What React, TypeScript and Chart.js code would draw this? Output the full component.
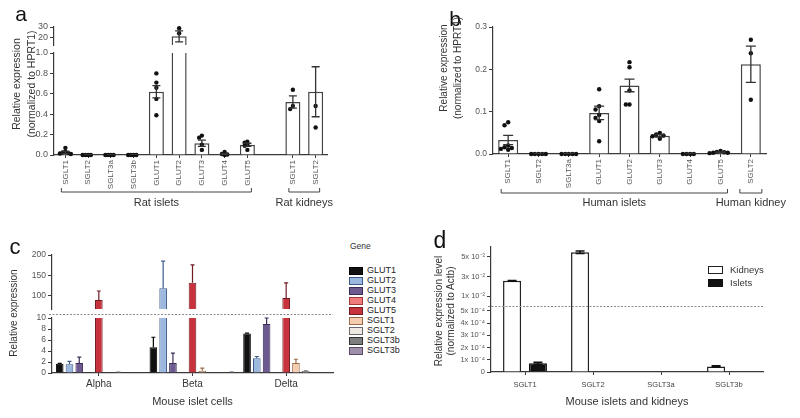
import React, { useEffect, useRef } from 'react';
import { Chart, registerables } from 'chart.js';

Chart.register(...registerables);

const FONT = '"Liberation Sans", Arial, Helvetica, sans-serif';
Chart.defaults.font.family = FONT;
const AXIS = '#3a3a3a';
const TICK = '#555555';

// ---------------- Panel a : rat ----------------
const aLabels = ['SGLT1', 'SGLT2', 'SGLT3a', 'SGLT3b', 'GLUT1', 'GLUT2', 'GLUT3', 'GLUT4', 'GLUT5', '', 'SGLT1', 'SGLT2'];
const aMean: (number | null)[] = [0.025, 0.002, 0.002, 0.002, 0.62, 21.5, 0.115, 0.01, 0.1, null, 0.52, 0.62];
const aSem: (number | null)[] = [0.01, 0.001, 0.001, 0.001, 0.06, 5, 0.03, 0.006, 0.015, null, 0.06, 0.245];
const aDots: number[][] = [
  [0.07, 0.035, 0.025, 0.02, 0.015, 0.01],
  [0, 0, 0, 0],
  [0, 0, 0, 0],
  [0, 0, 0, 0],
  [0.8, 0.71, 0.66, 0.55, 0.39],
  [28.8, 24.3, 11.5],
  [0.19, 0.17, 0.1, 0.05],
  [0.03, 0.01, 0.005, 0],
  [0.13, 0.12, 0.1, 0.09, 0.05],
  [],
  [0.64, 0.48, 0.45],
  [0.48, 0.27, 1.11],
];
const aTopRange = [13.6, 30];
const aTopTicks = [20, 30];
const aBottomRange = [0, 1.0];
const aBottomTicks = [0, 0.2, 0.4, 0.6, 0.8, 1.0];
const aGroups = [
  { label: 'Rat islets', from: 0, to: 8 },
  { label: 'Rat kidneys', from: 10, to: 11 },
];

// ---------------- Panel b : human ----------------
const bLabels = ['SGLT1', 'SGLT2', 'SGLT3a', 'GLUT1', 'GLUT2', 'GLUT3', 'GLUT4', 'GLUT5', 'SGLT2'];
const bMean = [0.033, 0.001, 0.001, 0.097, 0.162, 0.043, 0.001, 0.004, 0.212];
const bSem = [0.011, 0.0005, 0.0005, 0.016, 0.015, 0.003, 0.0005, 0.001, 0.043];
const bDots: number[][] = [
  [0.075, 0.068, 0.02, 0.016, 0.014, 0.012, 0.01],
  [0, 0, 0, 0, 0],
  [0, 0, 0, 0, 0],
  [0.153, 0.113, 0.105, 0.092, 0.085, 0.078, 0.03],
  [0.217, 0.205, 0.15, 0.117, 0.117],
  [0.05, 0.046, 0.044, 0.042, 0.036],
  [0, 0, 0, 0],
  [0.007, 0.005, 0.004, 0.003, 0.003, 0.002],
  [0.27, 0.238, 0.128],
];
const bRange = [0, 0.3];
const bTicks = [0, 0.1, 0.2, 0.3];
const bGroups = [
  { label: 'Human islets', from: 0, to: 7 },
  { label: 'Human kidney', from: 8, to: 8 },
];

// ---------------- Panel c : mouse islet cells ----------------
const cCells = ['Alpha', 'Beta', 'Delta'];
const cGenes = ['GLUT1', 'GLUT2', 'GLUT3', 'GLUT4', 'GLUT5', 'SGLT1', 'SGLT2', 'SGLT3b', 'SGLT3b'];
const cValues: number[][] = [
  [1.7, 4.7, 7.2],
  [1.6, 119, 2.7],
  [1.8, 1.8, 8.9],
  [0, 0, 0],
  [90, 132, 95],
  [0, 0.4, 1.8],
  [0.1, 0, 0.35],
  [0, 0, 0.05],
  [0, 0.1, 0],
];
const cErrors: number[][] = [
  [0.05, 1.8, 0.05],
  [0.5, 66, 0.3],
  [1.1, 1.8, 1.1],
  [0, 0, 0],
  [22, 44, 37],
  [0, 0.5, 0.7],
  [0.05, 0, 0.05],
  [0, 0, 0.02],
  [0, 0.05, 0],
];
const cFill = ['#111111', '#9db8df', '#6d5a8f', '#ef7b7b', '#c8323d', '#f4cdb0', '#eee8e2', '#7e7e7e', '#a08fab'];
const cEdge = ['#000000', '#3c5b8a', '#3a2d57', '#a33a3a', '#6e1c22', '#9c6b4c', '#6a6a6a', '#333333', '#5a4a66'];
const cTopRange = [68, 200];
const cTopTicks = [100, 150, 200];
const cBottomRange = [0, 10];
const cBottomTicks = [0, 2, 4, 6, 8, 10];

// ---------------- Panel d : mouse islets and kidneys ----------------
const dLabels = ['SGLT1', 'SGLT2', 'SGLT3a', 'SGLT3b'];
const dKidneys = [0.0256, 0.0547, 0, 0.000045];
const dKidneysErr = [0.0004, 0.0012, 0, 0.000006];
const dIslets = [0.000072, 0, 0, 0];
const dIsletsErr = [0.000008, 0, 0, 0];
const dTopRange = [0, 0.06];
const dTopTicks = [0.01, 0.03, 0.05];
const dTopTickLabels = ['1x 10⁻²', '3x 10⁻²', '5x 10⁻²'];
const dBottomRange = [0, 0.00054];
const dBottomTicks = [0, 0.0001, 0.0002, 0.0003, 0.0004, 0.0005];
const dBottomTickLabels = ['0', '1x 10⁻⁴', '2x 10⁻⁴', '3x 10⁻⁴', '4x 10⁻⁴', '5x 10⁻⁴'];

// ---------------- helpers ----------------
function swarm(dots: number[][], keep: (v: number) => boolean, span: number) {
  const out: { x: number; y: number }[] = [];
  dots.forEach((arr, i) => {
    const placed: { o: number; y: number }[] = [];
    arr.filter(keep).forEach((y) => {
      const steps = [0, -1, 1, -2, 2, -3, 3];
      let o = 0;
      for (const s of steps) {
        if (!placed.some((p) => p.o === s && Math.abs(p.y - y) < span)) {
          o = s;
          break;
        }
      }
      placed.push({ o, y });
      out.push({ x: i + o * 0.12, y });
    });
  });
  return out;
}

function yAxis(o: {
  min: number; max: number; ticks: number[]; width: number; fmt: (v: number, i: number) => string;
  size: number; stack?: string; stackWeight?: number; weight?: number; tickLen?: number;
}) {
  return {
    type: 'linear',
    position: 'left',
    bounds: 'data',
    min: o.min,
    max: o.max,
    stacked: false,
    stack: o.stack,
    stackWeight: o.stackWeight,
    weight: o.weight ?? 0,
    afterBuildTicks: (s: any) => {
      s.ticks = o.ticks.map((v) => ({ value: v }));
    },
    afterFit: (s: any) => {
      s.width = o.width;
    },
    grid: { display: true, drawOnChartArea: false, drawTicks: true, tickLength: o.tickLen ?? 4, color: AXIS, lineWidth: 1 },
    border: { display: true, color: AXIS, width: 1.2 },
    ticks: {
      autoSkip: false,
      font: { family: FONT, size: o.size },
      color: TICK,
      padding: 2,
      callback: (v: any, i: number) => o.fmt(Number(v), i),
    },
  };
}

function spacerAxis(stackWeight: number, weight: number, width: number) {
  return {
    type: 'linear',
    position: 'left',
    min: 0,
    max: 1,
    stack: 'p',
    stackWeight,
    weight,
    afterFit: (s: any) => {
      s.width = width;
    },
    grid: { display: false },
    border: { display: false },
    ticks: { display: false },
  };
}

function catX(o: {
  labels: string[]; height: number; size: number; rotate: number; color: string; tickLen: number; pad: number; title?: string;
}) {
  return {
    type: 'category',
    position: 'bottom',
    labels: o.labels,
    offset: true,
    weight: 2,
    afterFit: (s: any) => {
      s.height = o.height;
    },
    grid: {
      display: true,
      offset: false,
      drawOnChartArea: false,
      drawTicks: true,
      tickLength: o.tickLen,
      color: (c: any) => (o.labels[c.index] === '' ? 'rgba(0,0,0,0)' : AXIS),
    },
    border: { display: true, color: AXIS, width: 1.2 },
    ticks: {
      autoSkip: false,
      maxRotation: o.rotate,
      minRotation: o.rotate,
      padding: o.pad,
      font: { family: FONT, size: o.size },
      color: o.color,
    },
    title: o.title
      ? { display: true, text: o.title, font: { family: FONT, size: 11 }, color: '#333', padding: { top: 0, bottom: 9 } }
      : { display: false },
  };
}

// invisible linear x scale sharing the category axis span (used for jittered dots)
function dotX(n: number) {
  return {
    type: 'linear',
    position: 'bottom',
    bounds: 'data',
    offset: false,
    min: -0.5,
    max: n - 0.5,
    weight: 1,
    afterFit: (s: any) => {
      s.height = 0;
    },
    grid: { display: false, offset: false },
    border: { display: false },
    ticks: { display: false },
  };
}

const errorBarPlugin = {
  id: 'errorBarsCustom',
  afterDatasetsDraw(chart: any) {
    const ctx = chart.ctx;
    chart.data.datasets.forEach((ds: any, di: number) => {
      if (!ds.errors) return;
      const meta = chart.getDatasetMeta(di);
      const ys = chart.scales[ds.yAxisID];
      const st = ds.errorStyle || {};
      ctx.save();
      ctx.beginPath();
      ctx.rect(0, ys.top - 3, chart.width, ys.bottom - ys.top + 3);
      ctx.clip();
      ctx.strokeStyle = st.color || '#333';
      ctx.lineWidth = st.width || 1.2;
      meta.data.forEach((el: any, i: number) => {
        const v = ds.data[i];
        const e = ds.errors[i];
        if (v == null || e == null || e <= 0) return;
        const x = el.x;
        const yHi = ys.getPixelForValue(v + e);
        const yLo = st.oneSided ? ys.getPixelForValue(v) : ys.getPixelForValue(v - e);
        const cap = (st.cap || 8) / 2;
        ctx.beginPath();
        ctx.moveTo(x, yLo);
        ctx.lineTo(x, yHi);
        ctx.moveTo(x - cap, yHi);
        ctx.lineTo(x + cap, yHi);
        if (!st.oneSided) {
          ctx.moveTo(x - cap, yLo);
          ctx.lineTo(x + cap, yLo);
        }
        ctx.stroke();
      });
      ctx.restore();
    });
  },
};

function bracketPlugin(groups: { label: string; from: number; to: number }[], lineY: number, labelY: number, pad: number, singlePad: number) {
  return {
    id: 'brackets',
    afterDraw(chart: any) {
      const ctx = chart.ctx;
      const xs = chart.scales.x;
      ctx.save();
      ctx.strokeStyle = '#444';
      ctx.lineWidth = 1;
      ctx.fillStyle = '#333';
      ctx.font = `11px ${FONT}`;
      ctx.textAlign = 'center';
      ctx.textBaseline = 'middle';
      groups.forEach((g) => {
        const p = g.from === g.to ? singlePad : pad;
        const x1 = xs.getPixelForValue(g.from) - p;
        const x2 = xs.getPixelForValue(g.to) + p;
        ctx.beginPath();
        ctx.moveTo(x1, lineY - 4);
        ctx.lineTo(x1, lineY);
        ctx.lineTo(x2, lineY);
        ctx.lineTo(x2, lineY - 4);
        ctx.stroke();
        ctx.fillText(g.label, (x1 + x2) / 2, labelY);
      });
      ctx.restore();
    },
  };
}

function breakLinePlugin(topId: string, botId: string) {
  return {
    id: 'breakLine',
    afterDraw(chart: any) {
      const ctx = chart.ctx;
      const t = chart.scales[topId];
      const b = chart.scales[botId];
      const y = Math.round((t.bottom + b.top) / 2) + 0.5;
      ctx.save();
      ctx.strokeStyle = '#8a8a8a';
      ctx.lineWidth = 1;
      ctx.setLineDash([2, 1.5]);
      ctx.beginPath();
      ctx.moveTo(chart.chartArea.left - 3, y);
      ctx.lineTo(chart.chartArea.right, y);
      ctx.stroke();
      ctx.restore();
    },
  };
}

const baseOptions = {
  animation: false,
  responsive: false,
  devicePixelRatio: 1,
  events: [],
};

const dotStyle = {
  type: 'scatter',
  pointRadius: 2.2,
  pointBackgroundColor: '#111',
  pointBorderWidth: 0,
  showLine: false,
  order: 0,
  xAxisID: 'xd',
  clip: false,
};

const whiteBar = {
  type: 'bar',
  backgroundColor: '#ffffff',
  borderColor: '#444',
  borderWidth: 1.5,
  borderSkipped: 'start',
  order: 1,
  clip: 0,
  grouped: false,
  categoryPercentage: 1,
  barPercentage: 0.66,
};

// ---------------- configs ----------------
function makeA(): any {
  const topMin = aTopRange[0];
  const botMax = aBottomRange[1];
  const err = { color: '#333', width: 1.3, cap: 8 };
  return {
    type: 'bar',
    data: {
      labels: aLabels,
      datasets: [
        { ...dotStyle, yAxisID: 'yBot', data: swarm(aDots, (v) => v <= botMax, 0.03) },
        { ...dotStyle, yAxisID: 'yTop', data: swarm(aDots, (v) => v >= topMin, 3) },
        { ...whiteBar, yAxisID: 'yBot', data: aMean, errors: aSem, errorStyle: err },
        { ...whiteBar, yAxisID: 'yTop', data: aMean.map((v) => (v != null && v >= topMin ? v : null)), errors: aSem, errorStyle: err },
      ],
    },
    options: {
      ...baseOptions,
      layout: { padding: { left: 0, right: 73, top: 27, bottom: 0 } },
      plugins: { legend: { display: false }, tooltip: { enabled: false } },
      scales: {
        x: catX({ labels: aLabels, height: 55, size: 8, rotate: 90, color: TICK, tickLen: 3, pad: 2 }),
        xd: dotX(aLabels.length),
        yTop: yAxis({ min: aTopRange[0], max: aTopRange[1], ticks: aTopTicks, width: 54, size: 9, stack: 'p', stackWeight: 18, weight: 3, fmt: (v) => String(v) }),
        ySp: spacerAxis(8, 2, 54),
        yBot: yAxis({ min: aBottomRange[0], max: aBottomRange[1], ticks: aBottomTicks, width: 54, size: 9, stack: 'p', stackWeight: 102, weight: 1, fmt: (v) => v.toFixed(1) }),
      },
    },
    plugins: [errorBarPlugin, bracketPlugin(aGroups, 192, 203, 4, 11)],
  };
}

function makeB(): any {
  const err = { color: '#333', width: 1.3, cap: 10 };
  return {
    type: 'bar',
    data: {
      labels: bLabels,
      datasets: [
        { ...dotStyle, yAxisID: 'y', data: swarm(bDots, () => true, 0.009) },
        { ...whiteBar, yAxisID: 'y', data: bMean, errors: bSem, errorStyle: err },
      ],
    },
    options: {
      ...baseOptions,
      layout: { padding: { left: 0, right: 34, top: 27, bottom: 0 } },
      plugins: { legend: { display: false }, tooltip: { enabled: false } },
      scales: {
        x: catX({ labels: bLabels, height: 56, size: 8, rotate: 90, color: TICK, tickLen: 3, pad: 2 }),
        xd: dotX(bLabels.length),
        y: yAxis({ min: bRange[0], max: bRange[1], ticks: bTicks, width: 93, size: 8.5, fmt: (v) => v.toFixed(1) }),
      },
    },
    plugins: [errorBarPlugin, bracketPlugin(bGroups, 193, 203, 7, 11)],
  };
}

function makeC(): any {
  const topMin = cTopRange[0];
  const datasets: any[] = [];
  cGenes.forEach((g, i) => {
    const common = {
      type: 'bar',
      label: g,
      stack: 'g' + i,
      backgroundColor: cFill[i],
      borderColor: cEdge[i],
      borderWidth: 1,
      borderSkipped: 'start',
      categoryPercentage: 0.94,
      barPercentage: 0.78,
      clip: 0,
      errors: cErrors[i],
      errorStyle: { color: cEdge[i], width: 1.2, cap: 4, oneSided: true },
    };
    datasets.push({ ...common, yAxisID: 'yBot', data: cValues[i] });
    datasets.push({ ...common, yAxisID: 'yTop', data: cValues[i].map((v) => (v >= topMin ? v : null)) });
  });
  return {
    type: 'bar',
    data: { labels: cCells, datasets },
    options: {
      ...baseOptions,
      layout: { padding: { left: 0, right: 12, top: 45, bottom: 0 } },
      plugins: { legend: { display: false }, tooltip: { enabled: false } },
      scales: {
        x: catX({ labels: cCells, height: 45, size: 10, rotate: 0, color: '#333', tickLen: 3, pad: 2, title: 'Mouse islet cells' }),
        yTop: yAxis({ min: cTopRange[0], max: cTopRange[1], ticks: cTopTicks, width: 52, size: 8.5, stack: 'p', stackWeight: 54, weight: 3, fmt: (v) => String(v) }),
        ySp: spacerAxis(9, 2, 52),
        yBot: yAxis({ min: cBottomRange[0], max: cBottomRange[1], ticks: cBottomTicks, width: 52, size: 8.5, stack: 'p', stackWeight: 55, weight: 1, fmt: (v) => String(v) }),
      },
    },
    plugins: [errorBarPlugin, breakLinePlugin('yTop', 'yBot')],
  };
}

function makeD(): any {
  const botMax = dBottomRange[1];
  const kid = {
    type: 'bar', label: 'Kidneys', stack: 'k', backgroundColor: '#ffffff', borderColor: '#222', borderWidth: 1.5,
    borderSkipped: 'start', categoryPercentage: 0.76, barPercentage: 0.7, clip: 0,
    errors: dKidneysErr, errorStyle: { color: '#111', width: 1.5, cap: 9 },
  };
  const isl = {
    type: 'bar', label: 'Islets', stack: 'i', backgroundColor: '#111111', borderColor: '#111', borderWidth: 1.5,
    borderSkipped: 'start', categoryPercentage: 0.76, barPercentage: 0.7, clip: 0,
    errors: dIsletsErr, errorStyle: { color: '#111', width: 1.5, cap: 9 },
  };
  return {
    type: 'bar',
    data: {
      labels: dLabels,
      datasets: [
        { ...kid, yAxisID: 'yBot', data: dKidneys },
        { ...kid, yAxisID: 'yTop', data: dKidneys.map((v) => (v > botMax ? v : null)) },
        { ...isl, yAxisID: 'yBot', data: dIslets },
        { ...isl, yAxisID: 'yTop', data: dIslets.map((v) => (v > botMax ? v : null)) },
      ],
    },
    options: {
      ...baseOptions,
      layout: { padding: { left: 0, right: 37, top: 37, bottom: 0 } },
      plugins: { legend: { display: false }, tooltip: { enabled: false } },
      scales: {
        x: catX({ labels: dLabels, height: 46, size: 7.5, rotate: 0, color: '#444', tickLen: 3, pad: 5, title: 'Mouse islets and kidneys' }),
        yTop: yAxis({ min: dTopRange[0], max: dTopRange[1], ticks: dTopTicks, width: 91, size: 7.5, stack: 'p', stackWeight: 59, weight: 3, fmt: (_v, i) => dTopTickLabels[i] }),
        yBot: yAxis({ min: dBottomRange[0], max: dBottomRange[1], ticks: dBottomTicks, width: 91, size: 7.5, stack: 'p', stackWeight: 66, weight: 1, fmt: (_v, i) => dBottomTickLabels[i] }),
      },
    },
    plugins: [errorBarPlugin, breakLinePlugin('yTop', 'yBot')],
  };
}

// ---------------- components ----------------
function ChartCanvas(props: { left: number; top: number; width: number; height: number; make: () => any }) {
  const ref = useRef<HTMLCanvasElement | null>(null);
  useEffect(() => {
    if (!ref.current) return;
    const chart = new Chart(ref.current, props.make());
    return () => chart.destroy();
  }, []);
  return (
    <canvas
      ref={ref}
      width={props.width}
      height={props.height}
      style={{ position: 'absolute', left: props.left, top: props.top, width: props.width, height: props.height }}
    />
  );
}

function Txt(props: {
  x: number; y: number; size: number; children: React.ReactNode; rot?: number; anchor?: 'start' | 'middle' | 'end';
  color?: string; lh?: number;
}) {
  const a = props.anchor || 'middle';
  const tx = a === 'middle' ? '-50%' : a === 'start' ? '0%' : '-100%';
  return (
    <div
      style={{
        position: 'absolute',
        left: props.x,
        top: props.y,
        transform: `translate(${tx}, -50%) rotate(${props.rot || 0}deg)`,
        fontFamily: FONT,
        fontSize: props.size,
        color: props.color || '#222',
        whiteSpace: 'nowrap',
        lineHeight: props.lh || 1.2,
        textAlign: 'center',
      }}
    >
      {props.children}
    </div>
  );
}

export default function App() {
  const cRow0 = 270;
  const cRowStep = 10;
  return (
    <div style={{ position: 'absolute', left: 0, top: 0, width: 800, height: 418, background: '#fff', overflow: 'hidden' }}>
      <ChartCanvas left={0} top={0} width={400} height={210} make={makeA} />
      <ChartCanvas left={400} top={0} width={400} height={210} make={makeB} />
      <ChartCanvas left={0} top={210} width={345} height={208} make={makeC} />
      <ChartCanvas left={400} top={210} width={400} height={208} make={makeD} />

      {/* panel letters */}
      <Txt x={21} y={14} size={21} color="#111">a</Txt>
      <Txt x={455} y={19} size={21} color="#111">b</Txt>
      <Txt x={15} y={247} size={22} color="#111">c</Txt>
      <Txt x={440} y={241} size={23} color="#111">d</Txt>

      {/* y titles */}
      <Txt x={24} y={84} size={10.5} rot={-90} lh={1.4} color="#333">
        Relative expression<br />(normalized to HPRT1)
      </Txt>
      <Txt x={450} y={68} size={10} rot={-90} lh={1.35} color="#333">
        Relative expression<br />(normalized to HPRT1)
      </Txt>
      <Txt x={14} y={313} size={10} rot={-90} color="#333">Relative expression</Txt>
      <Txt x={445} y={311} size={10} rot={-90} lh={1.2} color="#333">
        Relative expression level<br />(normalized to Actb)
      </Txt>

      {/* legend c */}
      <Txt x={350} y={246} size={8.5} anchor="start" color="#333">Gene</Txt>
      {cGenes.map((g, i) => (
        <React.Fragment key={'lc' + i}>
          <div
            style={{
              position: 'absolute',
              left: 349,
              top: cRow0 + i * cRowStep - 3.5,
              width: 12,
              height: 6,
              background: cFill[i],
              border: `1px solid ${cEdge[i]}`,
            }}
          />
          <Txt x={367} y={cRow0 + i * cRowStep} size={9} anchor="start" color="#222">{g}</Txt>
        </React.Fragment>
      ))}

      {/* legend d */}
      <div style={{ position: 'absolute', left: 708, top: 266, width: 13, height: 6, background: '#fff', border: '1px solid #222' }} />
      <Txt x={730} y={270} size={9.5} anchor="start" color="#333">Kidneys</Txt>
      <div style={{ position: 'absolute', left: 708, top: 279, width: 13, height: 6, background: '#111', border: '1px solid #111' }} />
      <Txt x={730} y={283} size={9.5} anchor="start" color="#333">Islets</Txt>
    </div>
  );
}
